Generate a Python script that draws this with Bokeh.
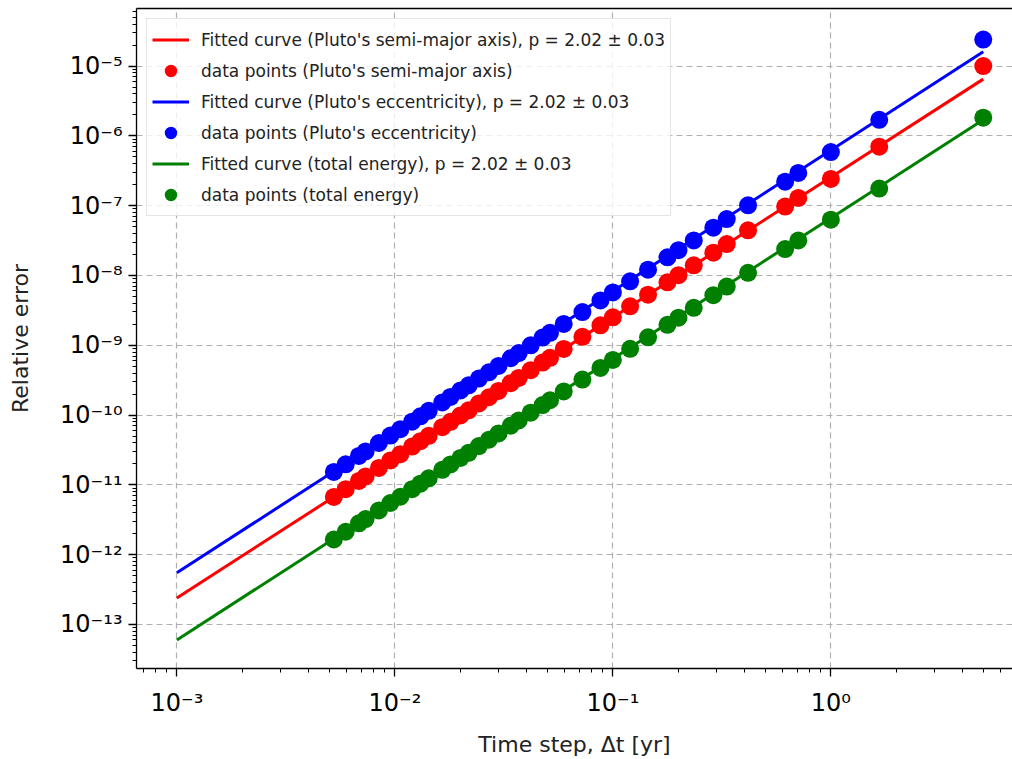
from bokeh.plotting import figure
from bokeh.models import (FixedTicker, CustomJSTickFormatter, LogAxis, Legend,
                          LegendItem, Range1d)
from bokeh.embed import file_html
from bokeh.resources import INLINE

# ---- data ----
dt = [5.0, 1.667, 1.0, 0.709, 0.617, 0.417, 0.333, 0.289, 0.235, 0.200,
      0.178, 0.145, 0.120, 0.100, 0.0877, 0.0725, 0.0595, 0.0515, 0.0476, 0.0420,
      0.0370, 0.0340, 0.0299, 0.0270, 0.0243, 0.0218, 0.0200, 0.0180, 0.0165, 0.0143,
      0.0131, 0.0120, 0.0106, 0.00954, 0.00845, 0.00734, 0.00684, 0.00595, 0.00525]

err_semimajor = [1.0e-5, 7.0e-7, 2.42e-7, 1.29e-7, 9.7e-8, 4.43e-8, 2.82e-8, 2.12e-8, 1.40e-8, 1.01e-8,
                 7.98e-9, 5.30e-9, 3.62e-9, 2.51e-9, 1.93e-9, 1.32e-9, 8.87e-10, 6.62e-10, 5.66e-10, 4.39e-10,
                 3.40e-10, 2.86e-10, 2.22e-10, 1.80e-10, 1.47e-10, 1.17e-10, 9.89e-11, 8.0e-11, 6.70e-11, 5.04e-11,
                 4.22e-11, 3.54e-11, 2.75e-11, 2.24e-11, 1.75e-11, 1.32e-11, 1.14e-11, 8.67e-12, 6.71e-12]

err_ecc = [2.4e-5, 1.7e-6, 5.85e-7, 2.94e-7, 2.21e-7, 1.01e-7, 6.43e-8, 4.83e-8, 3.18e-8, 2.30e-8,
           1.82e-8, 1.21e-8, 8.24e-9, 5.71e-9, 4.39e-9, 2.99e-9, 2.02e-9, 1.51e-9, 1.29e-9, 9.98e-10,
           7.74e-10, 6.52e-10, 5.06e-10, 4.10e-10, 3.33e-10, 2.67e-10, 2.25e-10, 1.82e-10, 1.52e-10, 1.15e-10,
           9.60e-11, 8.05e-11, 6.27e-11, 5.09e-11, 3.98e-11, 3.01e-11, 2.60e-11, 1.97e-11, 1.53e-11]

err_energy = [1.82e-6, 1.76e-7, 6.31e-8, 3.17e-8, 2.39e-8, 1.09e-8, 6.93e-9, 5.21e-9, 3.44e-9, 2.48e-9,
              1.96e-9, 1.30e-9, 8.89e-10, 6.17e-10, 4.73e-10, 3.23e-10, 2.18e-10, 1.63e-10, 1.39e-10, 1.08e-10,
              8.36e-11, 7.03e-11, 5.46e-11, 4.43e-11, 3.60e-11, 2.88e-11, 2.43e-11, 1.96e-11, 1.64e-11, 1.24e-11,
              1.04e-11, 8.69e-12, 6.76e-12, 5.50e-12, 4.30e-12, 3.24e-12, 2.81e-12, 2.13e-12, 1.65e-12]

fit_dt = [1e-3, 5.0]
fit_semimajor = [2.4e-13, 6.5e-6]
fit_ecc = [5.5e-13, 1.6e-5]
fit_energy = [6.0e-14, 1.7e-6]

x_ticks = [1e-3, 1e-2, 1e-1, 1e0]
y_ticks = [1e-13, 1e-12, 1e-11, 1e-10, 1e-9, 1e-8, 1e-7, 1e-6, 1e-5]

labels = [
    "Fitted curve (Pluto's semi-major axis), p = 2.02 \u00b1 0.03",
    "data points (Pluto's semi-major axis)",
    "Fitted curve (Pluto's eccentricity), p = 2.02 \u00b1 0.03",
    "data points (Pluto's eccentricity)",
    "Fitted curve (total energy), p = 2.02 \u00b1 0.03",
    "data points (total energy)",
]
colors = ["#ff0000", "#0000ff", "#008000"]

FONT = "DejaVu Sans"

p = figure(width=1012, height=759, x_axis_type="log", y_axis_type="log",
           x_range=Range1d(6.53e-4, 6.81), y_range=Range1d(2.34e-14, 6.68e-5),
           output_backend="svg", toolbar_location=None,
           min_border_left=136, min_border_right=0, min_border_top=8, min_border_bottom=91,
           background_fill_color="white", border_fill_color="white")
p.outline_line_color = None

fmt_code = """
const sup = {"-": "\u207b", "0": "\u2070", "1": "\u00b9", "2": "\u00b2", "3": "\u00b3",
             "4": "\u2074", "5": "\u2075", "6": "\u2076", "7": "\u2077", "8": "\u2078", "9": "\u2079"};
const e = Math.round(Math.log10(tick));
let s = "";
for (const c of String(e)) { s += sup[c]; }
return "10" + s;
"""

xminor = [m * 10.0 ** k for k in range(-4, 1) for m in range(2, 10)]
yminor = [m * 10.0 ** k for k in range(-15, -4) for m in range(2, 10)]

p.xaxis.ticker = FixedTicker(ticks=x_ticks, minor_ticks=xminor)
p.yaxis.ticker = FixedTicker(ticks=y_ticks, minor_ticks=yminor)
p.xaxis.formatter = CustomJSTickFormatter(code=fmt_code)
p.yaxis.formatter = CustomJSTickFormatter(code=fmt_code)

for ax in (p.xaxis, p.yaxis):
    ax.axis_line_width = 1.3
    ax.axis_line_color = "black"
    ax.major_tick_line_width = 1.3
    ax.minor_tick_line_width = 1.0
    ax.major_tick_out = 8
    ax.major_tick_in = 0
    ax.minor_tick_out = 4
    ax.minor_tick_in = 0
    ax.major_label_text_font = FONT
    ax.major_label_text_font_size = "24px"
    ax.major_label_text_color = "black"
    ax.axis_label_text_font = FONT
    ax.axis_label_text_font_size = "22px"
    ax.axis_label_text_font_style = "normal"
    ax.axis_label_text_color = "#222222"

p.xaxis.axis_label = "Time step, \u0394t [yr]"
p.yaxis.axis_label = "Relative error"
p.xaxis.major_label_standoff = 12
p.yaxis.major_label_standoff = 6
p.xaxis.axis_label_standoff = 12
p.yaxis.axis_label_standoff = 24

top = LogAxis(ticker=FixedTicker(ticks=[]), major_label_text_font_size="0px",
              major_tick_out=0, minor_tick_out=0, major_label_standoff=0,
              axis_line_width=1.3, axis_line_color="black")
p.add_layout(top, "above")

for g in (p.xgrid, p.ygrid):
    g.grid_line_color = "#b0b0b0"
    g.grid_line_dash = "6 4"
    g.grid_line_width = 1.2
p.xgrid.ticker = FixedTicker(ticks=x_ticks)
p.ygrid.ticker = FixedTicker(ticks=y_ticks)

renderers = []
for fit_y, pts_y, c in ((fit_semimajor, err_semimajor, colors[0]),
                        (fit_ecc, err_ecc, colors[1]),
                        (fit_energy, err_energy, colors[2])):
    rl = p.line(fit_dt, fit_y, line_color=c, line_width=3)
    rp = p.scatter(dt, pts_y, size=18, fill_color=c, line_color=c, line_width=0)
    renderers += [rl, rp]

items = [LegendItem(label=lab, renderers=[r]) for lab, r in zip(labels, renderers)]
legend = Legend(items=items, location="top_left", margin=10, padding=5,
                label_text_font=FONT, label_text_font_size="17px",
                label_text_color="#222222",
                glyph_width=37, glyph_height=31, label_height=20, spacing=0,
                label_standoff=12,
                border_line_color="#cccccc", border_line_width=1.3,
                background_fill_color="white", background_fill_alpha=0.8)
p.add_layout(legend)

open("out.html", "w").write(file_html(p, INLINE))
